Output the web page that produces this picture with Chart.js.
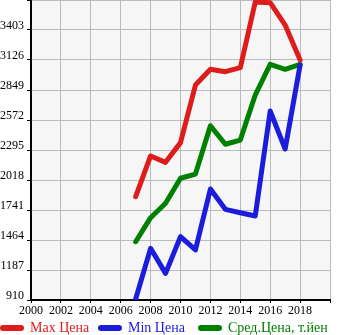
<!DOCTYPE html>
<html>
<head>
<meta charset="utf-8">
<script src="https://cdn.jsdelivr.net/npm/chart.js@4/dist/chart.umd.min.js"></script>
<style>
  html, body { margin: 0; padding: 0; background: #fff; }
  #wrap { width: 345px; height: 335px; }
</style>
</head>
<body>
<div id="wrap"><canvas id="myChart"></canvas></div>
<script>
// data
const years = [2007, 2008, 2009, 2010, 2011, 2012, 2013, 2014, 2015, 2016, 2017, 2018];
const maxPrice = [1864, 2240, 2181, 2363, 2895, 3040, 3018, 3055, 3662, 3655, 3449, 3126];
const minPrice = [920, 1387, 1156, 1495, 1372, 1935, 1747, 1716, 1686, 2655, 2304, 3080];
const avgPrice = [1448, 1670, 1803, 2034, 2073, 2519, 2348, 2387, 2803, 3086, 3040, 3086];
const seriesNames = ['Max Цена', 'Min Цена', 'Сред.Цена, т.йен'];
const yMin = 910, yMax = 3680, yStep = 277;
const xMin = 2000, xMax = 2020, xStep = 2;

const colors = ['rgb(221,28,28)', 'rgb(28,28,221)', 'rgb(0,128,0)'];

function points(vals) {
    return years.map((y, i) => ({ x: y, y: vals[i] }));
}

// grey plot background
const plotBg = {
    id: 'plotBg',
    beforeDraw(chart) {
        const a = chart.chartArea;
        const ctx = chart.ctx;
        ctx.save();
        ctx.fillStyle = '#f6f6f6';
        ctx.fillRect(a.left, a.top, a.right - a.left, a.bottom - a.top);
        ctx.restore();
    }
};

// legend row along the bottom: rounded line swatch + coloured label
const legendStarts = [3, 101, 201];
const bottomLegend = {
    id: 'bottomLegend',
    afterDraw(chart) {
        const ctx = chart.ctx;
        const y = chart.height - 7;
        ctx.save();
        ctx.font = '14px "Liberation Serif"';
        ctx.textBaseline = 'middle';
        ctx.lineCap = 'round';
        ctx.lineWidth = 6;
        chart.data.datasets.forEach((ds, i) => {
            const x0 = legendStarts[i];
            ctx.strokeStyle = ds.borderColor;
            ctx.beginPath();
            ctx.moveTo(x0, y);
            ctx.lineTo(x0 + 18, y);
            ctx.stroke();
            ctx.fillStyle = ds.borderColor;
            ctx.fillText(ds.label, x0 + 27, y);
        });
        ctx.restore();
    }
};

const lineOpts = {
    borderWidth: 5,
    pointRadius: 0,
    borderCapStyle: 'round',
    borderJoinStyle: 'round',
    tension: 0,
    fill: false
};

const config = {
    type: 'line',
    data: {
        datasets: [
            Object.assign({ label: seriesNames[0], data: points(maxPrice), borderColor: colors[0], backgroundColor: colors[0] }, lineOpts),
            Object.assign({ label: seriesNames[1], data: points(minPrice), borderColor: colors[1], backgroundColor: colors[1] }, lineOpts),
            Object.assign({ label: seriesNames[2], data: points(avgPrice), borderColor: colors[2], backgroundColor: colors[2] }, lineOpts)
        ]
    },
    options: {
        responsive: true,
        maintainAspectRatio: false,
        animation: false,
        layout: { padding: { left: 0, right: 0, top: 0, bottom: 18 } },
        plugins: {
            tooltip: { enabled: false },
            legend: { display: false }
        },
        scales: {
            x: {
                type: 'linear',
                min: xMin,
                max: xMax,
                afterFit: s => { s.paddingRight = 15; s.height = 17; },
                ticks: {
                    stepSize: xStep,
                    color: '#000',
                    maxRotation: 0,
                    padding: 1,
                    font: { family: 'Liberation Serif', size: 12 },
                    callback: v => (v === xMax ? '' : String(v))
                },
                grid: { color: '#bbbbbb', lineWidth: 1, tickLength: 3, tickColor: '#000' },
                border: { color: '#000', width: 2 }
            },
            y: {
                min: yMin,
                max: yMax,
                afterFit: s => { s.width = 31; s.paddingTop = 0; s.paddingBottom = 0; },
                ticks: {
                    stepSize: yStep,
                    color: '#000',
                    padding: 3,
                    labelOffset: -4,
                    font: { family: 'Liberation Serif', size: 12 },
                    callback: v => (v === yMax ? '' : String(v))
                },
                grid: { color: '#bbbbbb', lineWidth: 1, tickLength: 4, tickColor: '#000' },
                border: { color: '#000', width: 2 }
            }
        }
    },
    plugins: [plotBg, bottomLegend]
};

var myChart = new Chart(document.getElementById('myChart'), config);
</script>
</body>
</html>
